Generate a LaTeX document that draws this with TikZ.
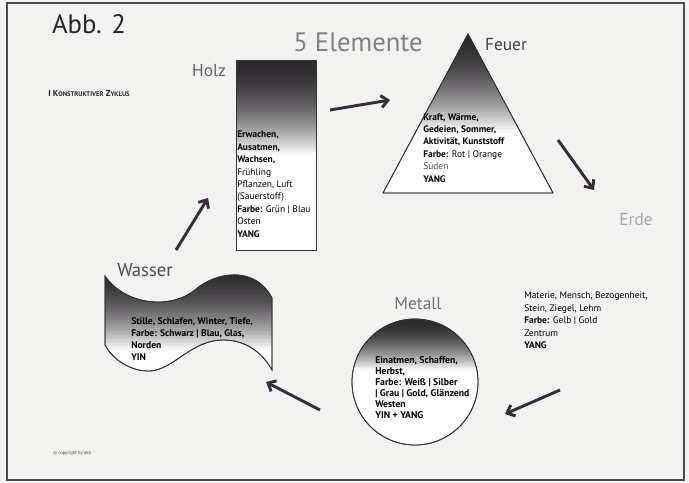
\documentclass[tikz,border=0pt]{standalone}
\usepackage{fontspec}
\setmainfont{PT Sans}
\usetikzlibrary{arrows.meta}
\definecolor{bg}{RGB}{242,242,240}
\definecolor{arrowc}{RGB}{55,45,58}
\definecolor{shadec}{RGB}{45,42,45}
\newcommand\gradstrips[4]{%
  \foreach \k in {0,...,59}{%
    \pgfmathsetmacro\pp{100*(1-(\k/60)^1.8)}%
    \fill[shadec!\pp!white] ({#1},{#2+(#4-#2)*\k/60}) rectangle ({#3},{#2+(#4-#2)*(\k+1.6)/60});}}
\begin{document}
\begin{tikzpicture}[x=0.75pt,y=-0.75pt,
  body/.style={anchor=north west, align=left, inner sep=0pt, font=\fontsize{7.1}{9.3}\selectfont},
  elabel/.style={inner sep=0pt, font=\fontsize{13}{15}\selectfont},
  cyclearrow/.style={draw=arrowc, line width=2.2pt, -{Straight Barb[length=5pt,width=9pt]}},
  shapeline/.style={draw=black!80, line width=0.6pt, fill=white}]

\path[fill=bg, use as bounding box] (0,0) rectangle (689,482);
\draw[gray!60!black, line width=0.8pt] (7,3) rectangle (684,480);

% titles
\node[inner sep=0pt, font=\fontsize{20}{22}\selectfont, text=black!85] (abb) at (89,24) {Abb. 2};
\node[inner sep=0pt, font=\fontsize{20}{22}\selectfont, text=black!50] (title) at (358,42) {5 Elemente};
\node[anchor=west, inner sep=0pt, font=\bfseries\fontsize{6.5}{8}\selectfont, text=black!85] (zyklus) at (48,94)
  {I K{\fontsize{5}{6}\selectfont ONSTRUKTIVER} Z{\fontsize{5}{6}\selectfont YKLUS}};
\node[anchor=west, inner sep=0pt, font=\fontsize{3.5}{4}\selectfont, text=black!70] (copy) at (53,453) {\textcopyright\ copyright by akb};

% Holz
\path[shapeline, path picture={\gradstrips{230}{60}{320}{155}}]
  (236,60) rectangle (316,250);
\draw[black!80, line width=0.6pt] (236,60) rectangle (316,250);
\node[elabel, text=black!60] (holzlabel) at (209,71) {Holz};
\node[body] (holztext) at (237,131) {\textbf{Erwachen,}\\ \textbf{Ausatmen,}\\ \textbf{Wachsen,}\\ Frühling\\ Pflanzen, Luft\\ (Sauerstoff)\\ \textbf{Farbe:} Grün | Blau\\ Osten\\ \textbf{YANG}};

% Feuer
\path[shapeline, path picture={\gradstrips{380}{34}{556}{132}}]
  (468,34) -- (553,193) -- (383,193) -- cycle;
\draw[black!80, line width=0.6pt] (468,34) -- (553,193) -- (383,193) -- cycle;
\node[elabel, text=black!75] (feuerlabel) at (506,45) {Feuer};
\node[body] (feuertext) at (423,113) {\textbf{Kraft, Wärme,}\\ \textbf{Gedeien, Sommer,}\\ \textbf{Aktivität, Kunststoff}\\ \textbf{Farbe:} Rot | Orange\\ {\color{black!70}Süden}\\ \textbf{YANG}};

% Erde
\node[elabel, text=black!35] (erdelabel) at (636,220) {Erde};
\node[body] (erdetext) at (524,292) {Materie, Mensch, Bezogenheit,\\ Stein, Ziegel, Lehm\\ \textbf{Farbe:} Gelb | Gold\\ Zentrum\\ \textbf{YANG}};

% Metall
\path[shapeline, path picture={\gradstrips{350}{319}{480}{370}}]
  (415,382) circle[radius=63];
\draw[black!80, line width=0.6pt] (415,382) circle[radius=63];
\node[elabel, text=black!55] (metalllabel) at (418,304) {Metall};
\node[body, font=\bfseries\fontsize{7.3}{8.3}\selectfont] (metalltext) at (375,356) {Einatmen, Schaffen,\\ Herbst,\\ Farbe: Weiß | Silber\\ | Grau | Gold, Glänzend\\ Westen\\ YIN + YANG};

% Wasser
\path[shapeline, path picture={\gradstrips{100}{268}{280}{350}}]
  (105,276) .. controls (125,305) and (170,310) .. (195,290)
  .. controls (215,272) and (255,265) .. (272,298)
  -- (272,370)
  .. controls (258,345) and (235,337) .. (213,341)
  .. controls (185,347) and (170,372) .. (147,371)
  .. controls (125,370) and (110,355) .. (105,345) -- cycle;
\draw[black!80, line width=0.6pt]
  (105,276) .. controls (125,305) and (170,310) .. (195,290)
  .. controls (215,272) and (255,265) .. (272,298)
  -- (272,370)
  .. controls (258,345) and (235,337) .. (213,341)
  .. controls (185,347) and (170,372) .. (147,371)
  .. controls (125,370) and (110,355) .. (105,345) -- cycle;
\node[elabel, font=\fontsize{14}{16}\selectfont, text=black!70] (wasserlabel) at (145,270) {Wasser};
\node[body, font=\bfseries\fontsize{7.2}{9}\selectfont] (wassertext) at (131,317) {Stille, Schlafen, Winter, Tiefe,\\ Farbe: Schwarz | Blau, Glas,\\ Norden\\ YIN};

% arrows
\coordinate (a1s) at (330,110); \coordinate (a1e) at (390,100);
\coordinate (a2s) at (558,140); \coordinate (a2e) at (594,190);
\coordinate (a3s) at (560,390); \coordinate (a3e) at (505,414);
\coordinate (a4s) at (320,410); \coordinate (a4e) at (266,382);
\coordinate (a5s) at (176,250); \coordinate (a5e) at (208,198);
\draw[cyclearrow] (a1s) -- (a1e);
\draw[cyclearrow] (a2s) -- (a2e);
\draw[cyclearrow] (a3s) -- (a3e);
\draw[cyclearrow] (a4s) -- (a4e);
\draw[cyclearrow] (a5s) -- (a5e);
\end{tikzpicture}
\end{document}
